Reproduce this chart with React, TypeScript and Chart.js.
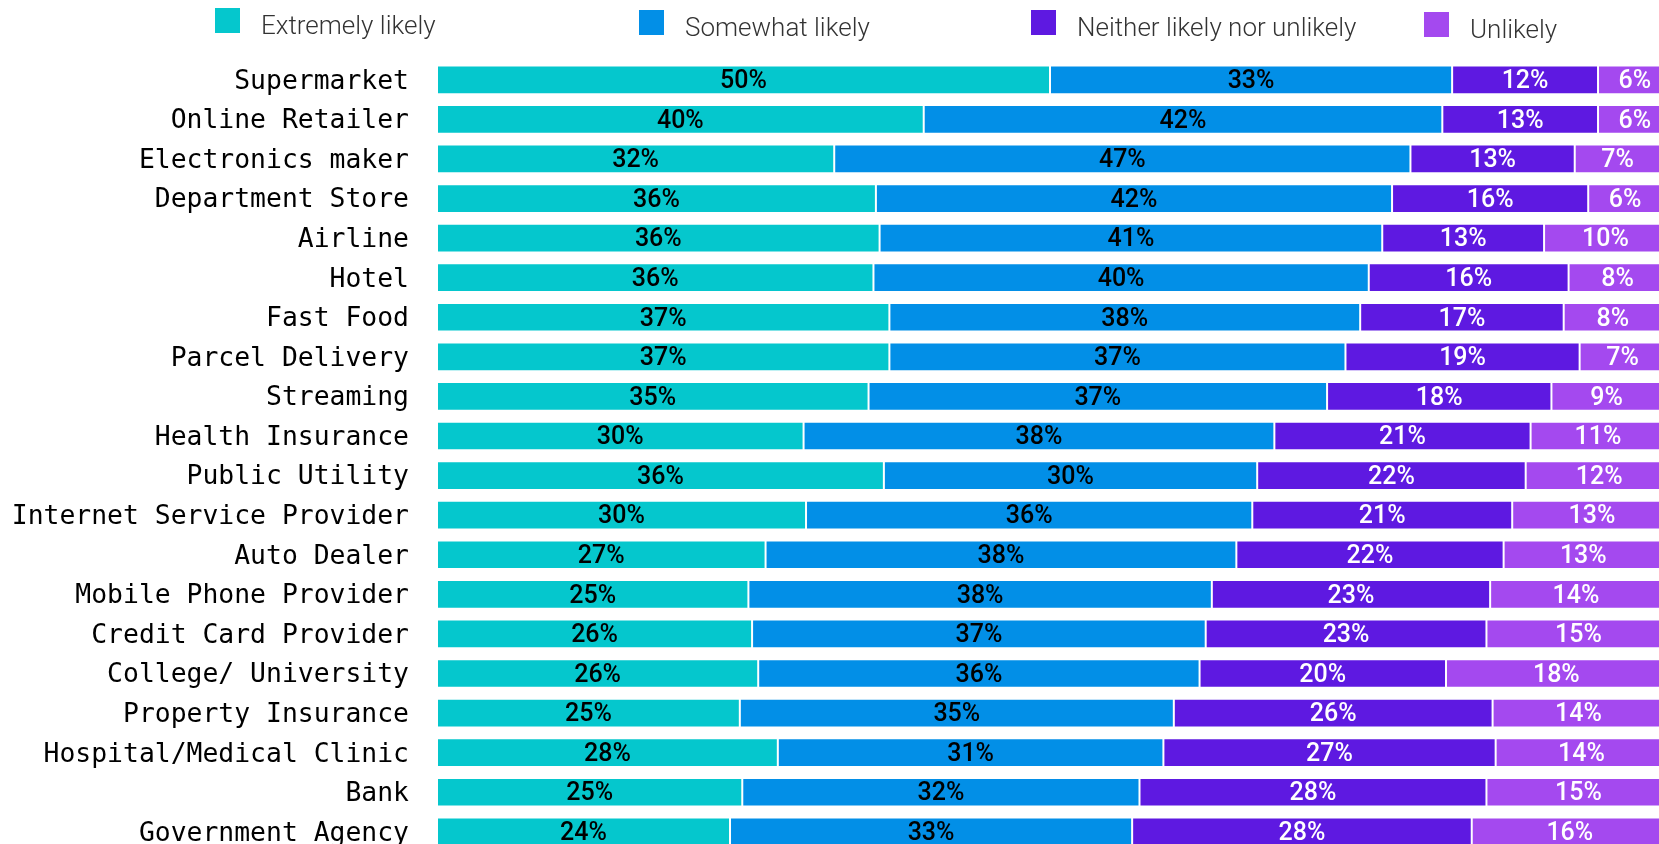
import React, { useEffect, useRef } from "react";
import { Chart, registerables } from "chart.js";

Chart.register(...registerables);

const categories = [
  "Supermarket",
  "Online Retailer",
  "Electronics maker",
  "Department Store",
  "Airline",
  "Hotel",
  "Fast Food",
  "Parcel Delivery",
  "Streaming",
  "Health Insurance",
  "Public Utility",
  "Internet Service Provider",
  "Auto Dealer",
  "Mobile Phone Provider",
  "Credit Card Provider",
  "College/ University",
  "Property Insurance",
  "Hospital/Medical Clinic",
  "Bank",
  "Government Agency",
];

const seriesNames = ["Extremely likely", "Somewhat likely", "Neither likely nor unlikely", "Unlikely"];

const extremelyLikely = [50.0, 39.7, 32.4, 35.8, 36.1, 35.6, 36.9, 36.9, 35.2, 29.9, 36.45, 30.1, 26.8, 25.4, 25.7, 26.2, 24.7, 27.8, 24.9, 23.9];
const somewhatLikely = [32.8, 42.3, 47.0, 42.1, 41.0, 40.4, 38.4, 37.2, 37.4, 38.4, 30.45, 36.4, 38.4, 37.8, 37.0, 36.0, 35.4, 31.45, 32.4, 32.8];
const neitherLikely = [11.9, 12.7, 13.4, 16.0, 13.2, 16.3, 16.6, 19.1, 18.3, 20.9, 21.9, 21.2, 21.8, 22.7, 22.9, 20.1, 26.0, 27.1, 28.3, 27.7];
const unlikely = [6, 6, 7, 6, 10, 8, 8, 7, 9, 11, 12, 13, 13, 14, 15, 18, 14, 14, 15, 16];

const seriesColors = ["#05C7CD", "#028FE7", "#5E19E1", "#A449EF"];
const labelColors = ["#000000", "#000000", "#ffffff", "#ffffff"];

// legend layout (box left/top in page pixels)
const legendLayout = [
  { x: 215, y: 8 },
  { x: 639, y: 10 },
  { x: 1031, y: 10 },
  { x: 1424, y: 12 },
];

const segmentLabelPlugin = {
  id: "segmentLabels",
  afterDatasetsDraw(chart: any) {
    const ctx = chart.ctx;
    ctx.save();
    ctx.font = "500 25px Roboto";
    ctx.textAlign = "center";
    ctx.textBaseline = "middle";
    chart.data.datasets.forEach((ds: any, di: number) => {
      const meta = chart.getDatasetMeta(di);
      meta.data.forEach((el: any, i: number) => {
        const p = el.getProps(["x", "base", "y"], true);
        const v = ds.data[i];
        ctx.fillStyle = labelColors[di];
        ctx.fillText(Math.round(v) + "%", (p.x + p.base) / 2, p.y + 2);
      });
    });
    ctx.restore();
  },
};

export default function App() {
  const canvasRef = useRef<HTMLCanvasElement | null>(null);

  useEffect(() => {
    const canvas = canvasRef.current;
    if (!canvas) return;
    const allSeries = [extremelyLikely, somewhatLikely, neitherLikely, unlikely];
    const chart = new Chart(canvas, {
      type: "bar",
      data: {
        labels: categories,
        datasets: allSeries.map((d, i) => ({
          label: seriesNames[i],
          data: d,
          backgroundColor: seriesColors[i],
          borderColor: "#ffffff",
          borderWidth: 1,
          borderSkipped: false,
          barPercentage: 0.725,
          categoryPercentage: 1,
        })),
      },
      options: {
        indexAxis: "y",
        responsive: false,
        animation: false,
        devicePixelRatio: 1,
        layout: { padding: { top: 60, left: 0, right: 37, bottom: 48.4 } },
        plugins: {
          legend: { display: false },
          tooltip: { enabled: false },
        },
        scales: {
          x: { stacked: true, min: 0, max: 100, display: false },
          y: {
            stacked: true,
            grid: { display: false, drawTicks: false },
            border: { display: false },
            ticks: {
              padding: 28,
              labelOffset: 2,
              color: "#000000",
              autoSkip: false,
              font: { family: "'DejaVu Sans Mono', monospace", size: 26.4 },
            },
            afterFit: (scale: any) => {
              scale.width = 437;
            },
          },
        },
      } as any,
      plugins: [segmentLabelPlugin],
    });
    return () => chart.destroy();
  }, []);

  return (
    <div
      style={{
        position: "absolute",
        left: 0,
        top: 0,
        width: 1659,
        height: 844,
        overflow: "hidden",
        background: "#ffffff",
      }}
    >
      <canvas
        ref={canvasRef}
        width={1700}
        height={900}
        style={{ position: "absolute", left: 0, top: 0, width: 1700, height: 900 }}
      />
      {seriesNames.map((name, i) => (
        <React.Fragment key={name}>
          <div
            style={{
              position: "absolute",
              left: legendLayout[i].x,
              top: legendLayout[i].y,
              width: 25,
              height: 25,
              background: seriesColors[i],
            }}
          />
          <div
            style={{
              position: "absolute",
              left: legendLayout[i].x + 46,
              top: legendLayout[i].y + 4,
              fontFamily: "Roboto, sans-serif",
              fontWeight: 300,
              fontSize: 26,
              lineHeight: "26px",
              color: "#333333",
              whiteSpace: "nowrap",
            }}
          >
            {name}
          </div>
        </React.Fragment>
      ))}
    </div>
  );
}
